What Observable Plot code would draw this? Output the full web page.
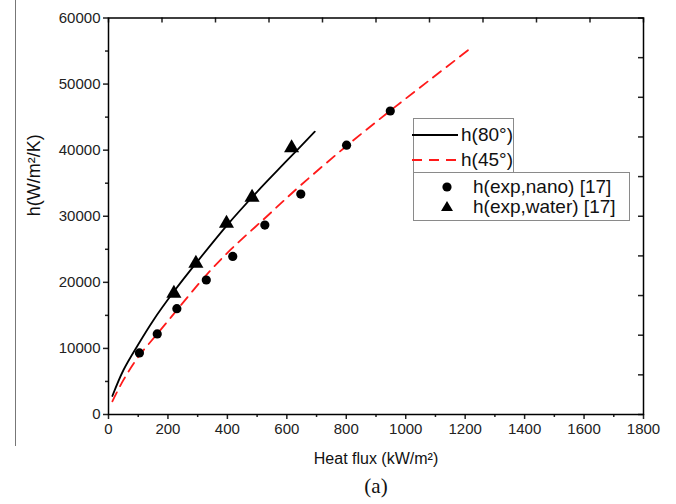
<!DOCTYPE html>
<html><head><meta charset="utf-8">
<script src="https://cdn.jsdelivr.net/npm/d3@7"></script>
<script src="https://cdn.jsdelivr.net/npm/@observablehq/plot@0.6"></script>
<style>
body{margin:0;background:#fff;font-family:"Liberation Sans",Arial,sans-serif;}
#wrap{position:relative;width:676px;height:504px;overflow:hidden;}
#vline{position:absolute;left:15px;top:0;width:0;height:446px;border-left:1.5px solid #777;}
.lg{position:absolute;border:1px solid #8a8a8a;background:#fff;box-sizing:border-box;}
.row{position:absolute;font-size:19px;color:#111;line-height:20px;height:20px;white-space:nowrap;}
.row svg{position:absolute;}
</style></head>
<body><div id="wrap"><div id="vline"></div></div>
<script>
// ---- data ----
const curve80Q = [13, 50, 100, 150, 220, 300, 400, 500, 600, 694];
const curve80H = [2800, 6700, 10600, 14200, 18600, 23200, 28700, 33700, 38400, 42800];
const curve45Q = [13, 50, 100, 164, 210, 329, 410, 526, 647, 800, 946, 1083, 1212];
const curve45H = [2000, 5200, 8700, 12200, 14700, 21100, 24900, 29700, 34700, 40600, 45900, 50700, 55200];
const nanoQ = [104, 164, 230, 329, 418, 526, 647, 801, 948];
const nanoH = [9320, 12190, 16020, 20350, 23920, 28660, 33350, 40750, 45930];
const waterQ = [220, 294, 397, 483, 616];
const waterH = [18330, 22860, 28900, 32860, 40340];
const xTicks = [0, 200, 400, 600, 800, 1000, 1200, 1400, 1600, 1800];
const xMinor = [100, 300, 500, 700, 900, 1100, 1300, 1500, 1700];
const yTicks = [0, 10000, 20000, 30000, 40000, 50000, 60000];
const yMinor = [5000, 15000, 25000, 35000, 45000, 55000];
const topTicks = [0, 180, 360, 540, 720, 900, 1080, 1260, 1440, 1620, 1800];
const rightTicks = [0, 6000, 12000, 18000, 24000, 30000, 36000, 42000, 48000, 54000, 60000];
const xTitle = "Heat flux (kW/m²)";
const yTitle = "h(W/m²/K)";
const panelTag = "(a)";

const c80 = curve80Q.map((q, i) => ({q, h: curve80H[i]}));
const c45 = curve45Q.map((q, i) => ({q, h: curve45H[i]}));
const nano = nanoQ.map((q, i) => ({q, h: nanoH[i]}));
const water = waterQ.map((q, i) => ({q, h: waterH[i]}));

const mt = 17.5, mb = 90, ml = 108, mr = 33, W = 676, H = 504;
const plotH = H - mt - mb, plotW = W - ml - mr;
const sans = '"Liberation Sans", Arial, sans-serif';

const chart = Plot.plot({
  width: W, height: H,
  marginTop: mt, marginBottom: mb, marginLeft: ml, marginRight: mr,
  style: {fontFamily: sans, fontSize: "15px", color: "#222", background: "transparent"},
  x: {domain: [0, 1800]},
  y: {domain: [0, 60000]},
  marks: [
    Plot.line(c80, {x: "q", y: "h", stroke: "#000", strokeWidth: 1.8, curve: "catmull-rom"}),
    Plot.line(c45, {x: "q", y: "h", stroke: "#ff1a1a", strokeWidth: 1.8, strokeDasharray: "10,7", curve: "catmull-rom"}),
    Plot.dot(nano, {x: "q", y: "h", r: 4.6, fill: "#000", stroke: "none"}),
    Plot.dot(water, {x: "q", y: "h", symbol: "triangle", r: 5.6, fill: "#000", stroke: "none"}),
    Plot.axisX({ticks: xTicks, tickSize: 5, tickPadding: 4, strokeWidth: 1.5, fontSize: 15, tickFormat: d3.format("d"), label: null}),
    Plot.axisX({ticks: xMinor, tickSize: 3, strokeWidth: 1.5, tickFormat: () => "", label: null}),
    Plot.axisY({ticks: yTicks, tickSize: 5, tickPadding: 3, strokeWidth: 1.5, fontSize: 15, tickFormat: d3.format("d"), label: null}),
    Plot.axisY({ticks: yMinor, tickSize: 3, strokeWidth: 1.5, tickFormat: () => "", label: null}),
    Plot.tickX(topTicks, {x: d => d, insetBottom: plotH - 5, strokeWidth: 1.5}),
    Plot.tickY(rightTicks, {y: d => d, insetLeft: plotW - 5, strokeWidth: 1.5}),
    Plot.frame({stroke: "#000", strokeWidth: 1.5}),
    Plot.text([xTitle], {text: d => d, frameAnchor: "bottom", dy: 49, fontFamily: sans, fontSize: 16, fill: "#111"}),
    Plot.text([yTitle], {text: d => d, frameAnchor: "left", dx: -74, rotate: -90, fontFamily: sans, fontSize: 18, fill: "#111"}),
    Plot.text([panelTag], {text: d => d, frameAnchor: "bottom", dy: 78, fontFamily: '"Liberation Serif", "Times New Roman", serif', fontSize: 21, fill: "#111"})
  ]
});
const wrap = document.getElementById("wrap");
wrap.appendChild(chart);

// legend
function box(l, t, w, h) { const d = document.createElement("div"); d.className = "lg"; Object.assign(d.style, {left: l + "px", top: t + "px", width: w + "px", height: h + "px"}); wrap.appendChild(d); return d; }
const b1 = box(413, 118, 101, 55);
const b2 = box(413, 172, 217, 49);
function row(parent, x, y, label, swatch) {
  const r = document.createElement("div"); r.className = "row";
  r.style.left = x + "px"; r.style.top = y + "px"; r.textContent = label; parent.appendChild(r);
  if (swatch) { const s = document.createElementNS("http://www.w3.org/2000/svg", "svg"); s.setAttribute("width", swatch.w); s.setAttribute("height", 20); s.style.left = (-swatch.w - 2) + "px"; s.style.top = "0px"; s.innerHTML = swatch.html; r.appendChild(s); }
}
row(b1, 47, 6, "h(80°)", {w: 47, html: '<line x1="0" x2="46" y1="10" y2="10" stroke="#000" stroke-width="1.8"/>'});
row(b1, 47, 31, "h(45°)", {w: 47, html: '<line x1="0" x2="46" y1="10" y2="10" stroke="#ff1a1a" stroke-width="1.8" stroke-dasharray="10,7"/>'});
row(b2, 59, 4, "h(exp,nano) [17]", {w: 30, html: '<circle cx="6" cy="10" r="4.6" fill="#000"/>'});
row(b2, 59, 24, "h(exp,water) [17]", {w: 30, html: '<path d="M6,4 L12,14 L0,14 Z" fill="#000"/>'});
</script></body></html>
